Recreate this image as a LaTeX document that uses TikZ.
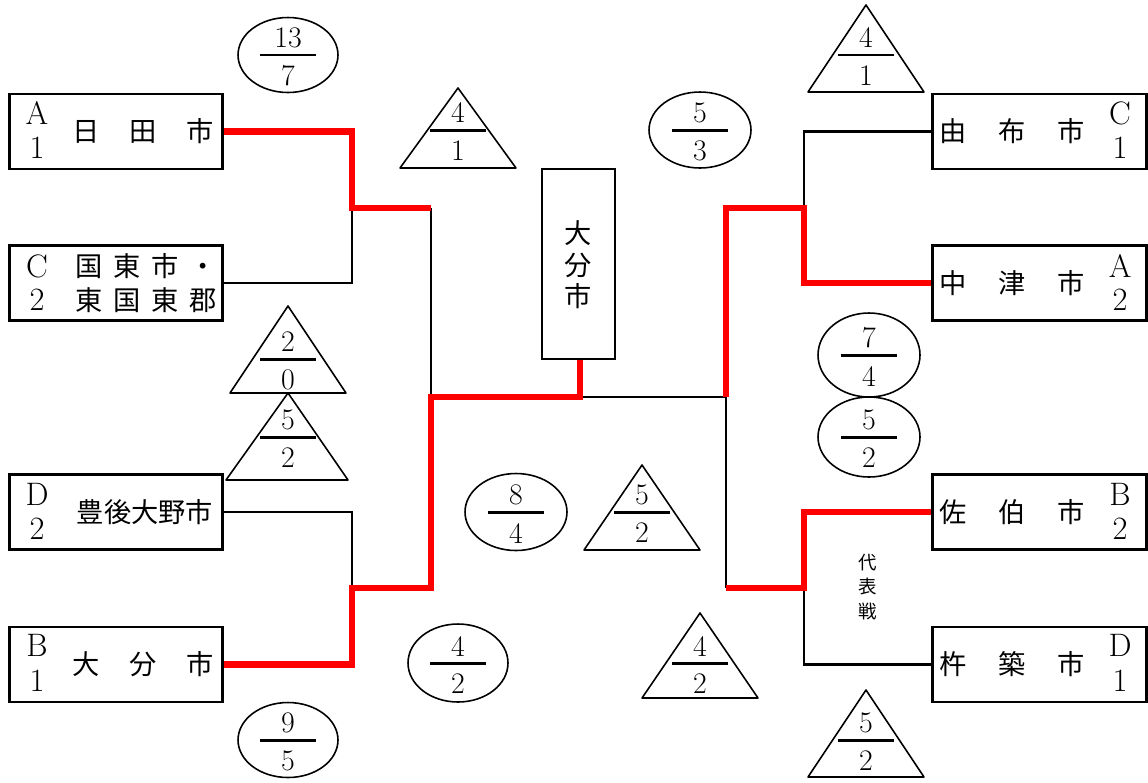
\documentclass[tikz,border=0pt]{standalone}
\usepackage{fontspec}
\newfontfamily\jp{Noto Sans CJK JP}

\tikzset{
	team/.style={draw, line width=1.6pt, minimum width=4.27cm, minimum height=1.5cm, inner sep=0pt},
	lose/.style={line width=1.2pt},
	win/.style={red, line width=3.6pt},
	tri/.style={line width=0.9pt, line join=round},
	bar/.style={line width=1.7pt},
	lbl/.style={font=\fontsize{17}{19}\selectfont, inner sep=0pt},
	key/.style={font=\fontsize{18.5}{20}\selectfont, inner sep=0pt},
	city/.style={font=\jp\fontsize{15.5}{19}\selectfont, inner sep=0pt, align=center},
}

% score: name, centre, numerator, denominator
\newcommand{\score}[4]{%
	\begin{scope}[shift={(#2)}]
		\node[lbl] (#1-n) at (0,-17) {#3};
		\draw[bar] (-28,0) -- (28,0);
		\node[lbl] (#1-d) at (0,21) {#4};
	\end{scope}}

\begin{document}
\begin{tikzpicture}[x=0.02cm, y=-0.02cm]
	\useasboundingbox (0,0) rectangle (1148,782);

	% teams
	\node[team] (hita) at (116,131.5) {};
	\node[team] (kunisaki) at (116,283) {};
	\node[team] (bungoono) at (116,512) {};
	\node[team] (oita) at (116,664.5) {};
	\node[team] (yufu) at (1039.5,131.5) {};
	\node[team] (nakatsu) at (1039.5,283) {};
	\node[team] (saiki) at (1039.5,512) {};
	\node[team] (kitsuki) at (1039.5,664.5) {};
	\node[draw, line width=1.6pt, minimum width=1.46cm, minimum height=3.8cm] (center) at (578.5,264) {};

	\node[key] (hita-k) at (37,113) {A};
	\node[key] (hita-r) at (37,148) {1};
	\node[city] (hita-t) at (143,131.5) {日\hspace{17pt}田\hspace{17pt}市};
	\node[key] (kunisaki-k) at (37,266) {C};
	\node[key] (kunisaki-r) at (37,300) {2};
	\node[city] (kunisaki-t) at (146,283) {国\hspace{6pt}東\hspace{6pt}市\hspace{6pt}・\\東\hspace{6pt}国\hspace{6pt}東\hspace{6pt}郡};
	\node[key] (bungoono-k) at (37,494) {D};
	\node[key] (bungoono-r) at (37,529) {2};
	\node[city] (bungoono-t) at (145,512) {豊後大野市};
	\node[key] (oita-k) at (37,645) {B};
	\node[key] (oita-r) at (37,681) {1};
	\node[city] (oita-t) at (143,664.5) {大\hspace{17pt}分\hspace{17pt}市};

	\node[city] (yufu-t) at (1012,131.5) {由\hspace{18pt}布\hspace{18pt}市};
	\node[key] (yufu-k) at (1120,113) {C};
	\node[key] (yufu-r) at (1120,148) {1};
	\node[city] (nakatsu-t) at (1012,283) {中\hspace{18pt}津\hspace{18pt}市};
	\node[key] (nakatsu-k) at (1120,266) {A};
	\node[key] (nakatsu-r) at (1120,300) {2};
	\node[city] (saiki-t) at (1012,512) {佐\hspace{18pt}伯\hspace{18pt}市};
	\node[key] (saiki-k) at (1120,494) {B};
	\node[key] (saiki-r) at (1120,529) {2};
	\node[city] (kitsuki-t) at (1012,664.5) {杵\hspace{18pt}築\hspace{18pt}市};
	\node[key] (kitsuki-k) at (1120,645) {D};
	\node[key] (kitsuki-r) at (1120,681) {1};

	\node[city, font=\jp\fontsize{15.5}{18}\selectfont] (center-t) at (578.5,265) {大\\分\\市};
	\node[city, font=\jp\fontsize{10.5}{14}\selectfont] (final) at (868,587) {代\\表\\戦};

	% bracket
	\coordinate (l1) at (352,208);
	\coordinate (l2) at (431,208);
	\coordinate (l3) at (352,588);
	\coordinate (l4) at (431,588);
	\coordinate (c1) at (431,397);
	\coordinate (c2) at (580,397);
	\coordinate (c3) at (726,397);
	\coordinate (r1) at (804,208);
	\coordinate (r2) at (726,208);
	\coordinate (r3) at (804,588);
	\coordinate (r4) at (726,588);

	\draw[lose] (kunisaki.east) -| (l1);
	\draw[lose] (l2) -- (c1);
	\draw[lose] (bungoono.east) -| (l3);
	\draw[lose] (c2) -- (c3) -- (r4);
	\draw[lose] (yufu.west) -| (r1);
	\draw[lose] (kitsuki.west) -| (r3);

	\draw[win] (hita.east) -| (l1) -- (l2);
	\draw[win] (oita.east) -| (l3) -- (l4) -- (c1) -- (c2) -- (c2 |- center.south);
	\draw[win] (nakatsu.west) -| (r1) -- (r2) -- (c3);
	\draw[win] (saiki.west) -| (r3) -- (r4);

	% scores
	\draw[tri] (288,55) ellipse [x radius=1cm, y radius=0.75cm];
	\score{s1}{288,55}{13}{7}
	\draw[tri] (458,88) -- (516,168) -- (400,168) -- cycle;
	\score{s2}{458,130}{4}{1}
	\draw[tri] (288,306) -- (346,393) -- (230,393) -- cycle;
	\score{s3}{288,359}{2}{0}
	\draw[tri] (288,393) -- (348,480) -- (226,480) -- cycle;
	\score{s4}{288,437}{5}{2}
	\draw[tri] (516,512) ellipse [x radius=1.02cm, y radius=0.77cm];
	\score{s5}{516,512}{8}{4}
	\draw[tri] (458,663) ellipse [x radius=1cm, y radius=0.78cm];
	\score{s6}{458,663}{4}{2}
	\draw[tri] (288,740) ellipse [x radius=1cm, y radius=0.75cm];
	\score{s7}{288,740}{9}{5}
	\draw[tri] (700,130) ellipse [x radius=1.02cm, y radius=0.76cm];
	\score{s8}{700,130}{5}{3}
	\draw[tri] (642,465) -- (700,550) -- (584,550) -- cycle;
	\score{s9}{642,512}{5}{2}
	\draw[tri] (700,613) -- (758,698) -- (642,698) -- cycle;
	\score{s10}{700,663}{4}{2}
	\draw[tri] (866,5) -- (924,92) -- (808,92) -- cycle;
	\score{s11}{866,55}{4}{1}
	\draw[tri] (869,355) ellipse [x radius=1.02cm, y radius=0.84cm];
	\score{s12}{869,355}{7}{4}
	\draw[tri] (869,437) ellipse [x radius=1.02cm, y radius=0.8cm];
	\score{s13}{869,437}{5}{2}
	\draw[tri] (866,690) -- (924,777) -- (808,777) -- cycle;
	\score{s14}{866,740}{5}{2}

\end{tikzpicture}
\end{document}
